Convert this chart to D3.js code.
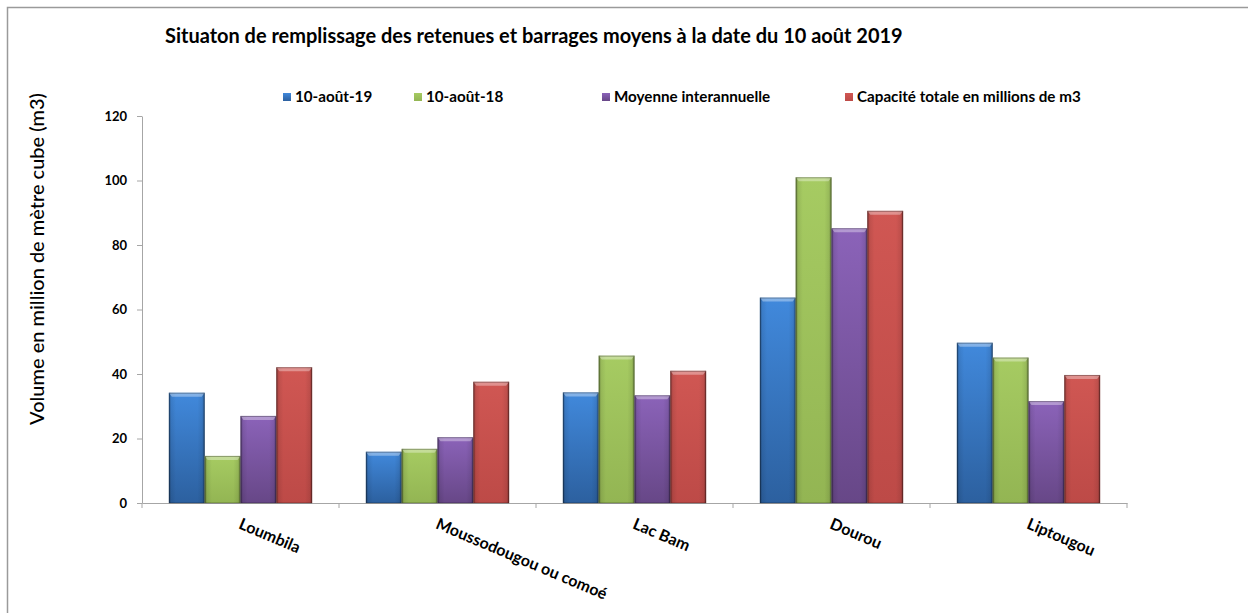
<!DOCTYPE html>
<html>
<head>
<meta charset="utf-8">
<script src="https://cdn.jsdelivr.net/npm/d3@7"></script>
<style>
  body { margin: 0; background: #fff; }
  text { font-family: Lato, "Open Sans", sans-serif; }
</style>
</head>
<body>
<svg id="chart" width="1248" height="613"></svg>
<script>
// data
const categories = ["Loumbila", "Moussodougou ou comoé", "Lac Bam", "Dourou", "Liptougou"];
const seriesNames = ["10-août-19", "10-août-18", "Moyenne interannuelle", "Capacité totale en millions de m3"];
const aout19 = [34.2, 15.9, 34.3, 63.7, 49.7];
const aout18 = [14.6, 16.8, 45.7, 101.0, 45.1];
const moyenne = [27.0, 20.4, 33.4, 85.2, 31.6];
const capacite = [42.1, 37.6, 41.0, 90.6, 39.7];
const yTicks = [0, 20, 40, 60, 80, 100, 120];

const seriesValues = [aout19, aout18, moyenne, capacite];
// top / bottom shade of each series
const colTop = ["#4189dc", "#a6cb62", "#8b63b9", "#d05753"];
const colBot = ["#2c609f", "#93b553", "#674787", "#bd4a47"];

const svg = d3.select("#chart");

// frame: only top and left edges are visible
svg.append("path")
    .attr("d", "M7.5,613 V7.5 H1248")
    .attr("fill", "none")
    .attr("stroke", "#9a9a9a")
    .attr("stroke-width", 1.5);

const y = d3.scaleLinear().domain([0, 120]).range([503, 116]);
const x0 = d3.scaleBand().domain(categories).range([142, 1127]).padding(0);
const x1 = d3.scaleBand().domain(seriesNames).range([0, x0.bandwidth()])
    .paddingInner(0).paddingOuter(0.75);

/* gradients */
const defs = svg.append("defs");
seriesNames.forEach((s, i) => {
    let g = defs.append("linearGradient").attr("id", "v" + i)
        .attr("x1", 0).attr("y1", 0).attr("x2", 0).attr("y2", 1);
    g.append("stop").attr("offset", "0%").attr("stop-color", colTop[i]);
    g.append("stop").attr("offset", "100%").attr("stop-color", colBot[i]);
});
let edge = defs.append("linearGradient").attr("id", "edge")
    .attr("x1", 0).attr("y1", 0).attr("x2", 1).attr("y2", 0);
[[0, 0.35], [0.07, 0.08], [0.2, 0], [0.8, 0], [0.93, 0.08], [1, 0.35]].forEach(d => {
    edge.append("stop").attr("offset", d[0]).attr("stop-color", "#000").attr("stop-opacity", d[1]);
});

/* axes */
const yAxis = svg.append("g")
    .attr("transform", "translate(142,0)")
    .call(d3.axisLeft(y).tickValues(yTicks).tickSize(5).tickSizeOuter(0).tickPadding(10));
yAxis.select(".domain").attr("stroke", "#a6a6a6");
yAxis.selectAll(".tick line").attr("stroke", "#a6a6a6");
yAxis.selectAll(".tick text")
    .attr("font-size", 13).attr("font-weight", "bold").attr("fill", "#000");

const xAxis = svg.append("g")
    .attr("transform", "translate(0,503)")
    .call(d3.axisBottom(x0).tickSize(0).tickFormat(""));
xAxis.select(".domain").attr("stroke", "#a6a6a6");
let bounds = categories.map(c => x0(c)).concat([x0.range()[1]]);
xAxis.selectAll(".sep").data(bounds).join("line")
    .attr("class", "sep")
    .attr("x1", d => d).attr("x2", d => d)
    .attr("y1", 0).attr("y2", 5)
    .attr("stroke", "#a6a6a6");

/* bars */
const groups = svg.append("g").selectAll("g")
    .data(categories).join("g")
    .attr("transform", d => `translate(${x0(d)},0)`);

groups.each(function(cat, ci) {
    const g = d3.select(this);
    seriesNames.forEach((s, si) => {
        const v = seriesValues[si][ci];
        const bx = x1(s), bw = x1.bandwidth();
        const top = y(v), h = y(0) - y(v);
        g.append("rect")
            .attr("x", bx).attr("y", top).attr("width", bw).attr("height", h)
            .attr("fill", `url(#v${si})`);
        g.append("rect")
            .attr("x", bx).attr("y", top).attr("width", bw).attr("height", h)
            .attr("fill", "url(#edge)");
        // bevel cap
        g.append("path")
            .attr("d", `M${bx},${top} H${bx + bw} L${bx + bw - 3},${top + 4} H${bx + 3} Z`)
            .attr("fill", "#fff").attr("fill-opacity", 0.35);
        g.append("rect")
            .attr("x", bx + 0.5).attr("y", top + 0.5).attr("width", bw - 1).attr("height", h - 0.5)
            .attr("fill", "none").attr("stroke", "#000").attr("stroke-opacity", 0.3);
    });
});

/* category labels, tilted */
svg.append("g").selectAll("text")
    .data(categories).join("text")
    .attr("transform", d => `translate(${x0(d) + x0.bandwidth() / 2 + 2},517) rotate(23)`)
    .attr("y", 12)
    .attr("font-size", 16)
    .attr("font-weight", "bold")
    .attr("fill", "#000")
    .text(d => d);

function fitWidth(sel, target) {
    const w = sel.node().getComputedTextLength();
    const fs = parseFloat(sel.attr("font-size"));
    sel.attr("font-size", fs * target / w);
    return fs * target / w;
}

/* title */
const title = svg.append("text")
    .attr("x", 165).attr("y", 43)
    .attr("font-size", 17).attr("font-weight", "bold").attr("fill", "#000")
    .text("Situaton de remplissage des retenues et barrages moyens à la date du 10 août 2019");
fitWidth(title, 738);

/* y label */
const ylab = svg.append("text")
    .attr("transform", "translate(44,259) rotate(-90)")
    .attr("text-anchor", "middle")
    .attr("font-size", 19).attr("font-weight", 500).attr("fill", "#000")
    .text("Volume en million de mètre cube (m3)");
fitWidth(ylab, 332);

/* legend */
const legendX = [283, 414, 602, 845];
const leg = svg.append("g").selectAll("g")
    .data(seriesNames).join("g")
    .attr("transform", (d, i) => `translate(${legendX[i]},97)`);
leg.append("rect")
    .attr("x", 0).attr("y", -4).attr("width", 8).attr("height", 8)
    .attr("fill", (d, i) => `url(#v${i})`);
const legText = leg.append("text")
    .attr("x", 12).attr("y", 4.5)
    .attr("font-size", 13).attr("font-weight", "bold").attr("fill", "#000")
    .text(d => d);
// size legend text from the longest entry
const lastLeg = d3.select(legText.nodes()[3]);
const fs = fitWidth(lastLeg, 224);
legText.attr("font-size", fs);
</script>
</body>
</html>
